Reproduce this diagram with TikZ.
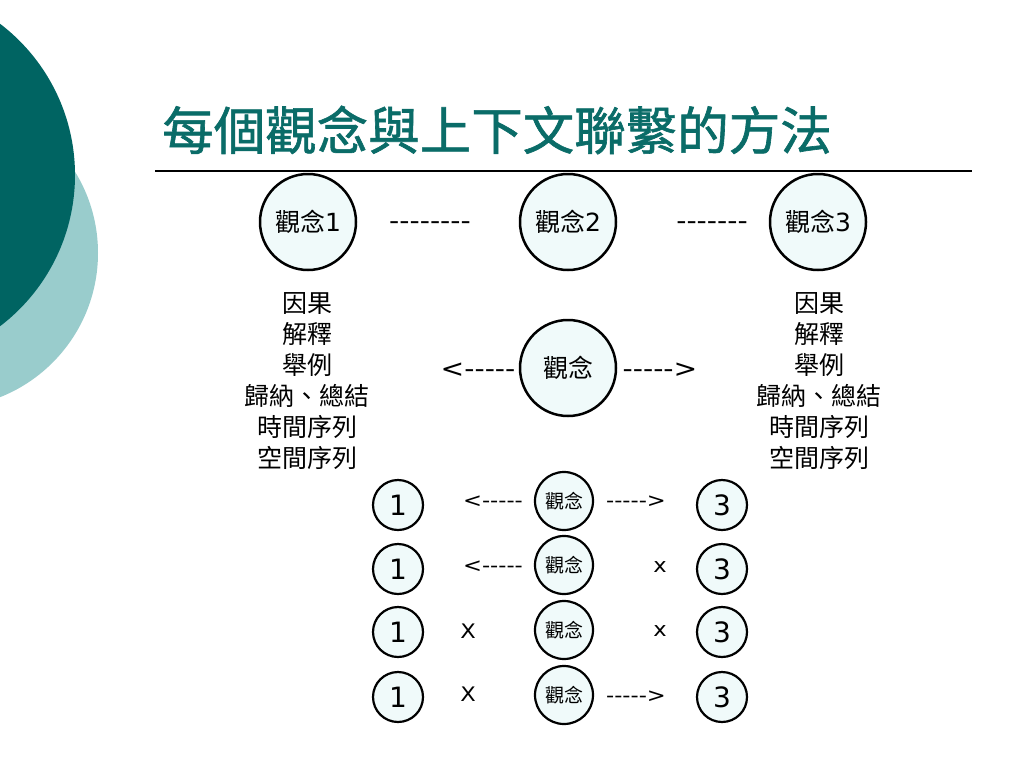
\documentclass[tikz,border=0pt]{standalone}
\usepackage{fontspec}
\setmainfont{DejaVu Sans}
\newfontfamily\cjk{Noto Sans CJK TC}
\newfontfamily\cjktitle[FakeBold=1.2]{Noto Sans CJK TC}
\newfontfamily\wide[FakeStretch=1.13]{DejaVu Sans}
\definecolor{darkteal}{RGB}{0,100,98}
\definecolor{lightteal}{RGB}{153,204,204}
\definecolor{titlecol}{RGB}{10,108,104}
\definecolor{cfill}{RGB}{240,250,250}
\begin{document}
\begin{tikzpicture}[x=1pt,y=-1pt,
  bigc/.style={circle, draw, line width=2.5pt, fill=cfill, minimum size=96pt, inner sep=0pt, font=\fontsize{25}{30}\selectfont},
  smallc/.style={circle, draw, line width=2.2pt, fill=cfill, minimum size=50pt, inner sep=0pt, font=\fontsize{28}{32}\selectfont},
  midc/.style={circle, draw, line width=2.2pt, fill=cfill, minimum size=58pt, inner sep=0pt, font=\fontsize{19}{22}\selectfont\cjk},
  biglab/.style={inner sep=0pt, font=\fontsize{25}{30}\selectfont\wide},
  smalllab/.style={inner sep=0pt, font=\fontsize{20}{24}\selectfont\wide},
  column/.style={inner sep=0pt, align=center, font=\fontsize{25}{31}\selectfont\cjk}]
\useasboundingbox (0,0) rectangle (1024,768);
\fill[white] (0,0) rectangle (1024,768);
\begin{scope}
  \clip (0,0) rectangle (1024,768);
  \fill[lightteal] (-57,253) circle[radius=155];
  \fill[darkteal] (-115,175) circle[radius=190];
\end{scope}
% title
\node[inner sep=0pt, text=titlecol, font=\fontsize{51.5}{56}\selectfont\cjktitle] (title) at (497,130) {每個觀念與上下文聯繫的方法};
\coordinate (rl) at (155,171);
\coordinate (rr) at (972,171);
\draw[line width=1.5pt] (rl) -- (rr);
% top row
\node[bigc] (c1) at (308,222) {{\cjk 觀念}1};
\node[bigc] (c2) at (568,222) {{\cjk 觀念}2};
\node[bigc] (c3) at (818,222) {{\cjk 觀念}3};
\node[biglab] (d1) at (430,222) {\vphantom{<}--------};
\node[biglab] (d2) at (712,222) {\vphantom{<}-------};
% middle
\node[bigc, font=\fontsize{25}{30}\selectfont\cjk] (cm) at (568,368) {觀念};
\node[biglab] (la) at (478,370) {<-----};
\node[biglab] (ra) at (660,370) {----->};
\node[column] (colL) at (307,381) {因果\\解釋\\舉例\\歸納、總結\\時間序列\\空間序列};
\node[column] (colR) at (819,381) {因果\\解釋\\舉例\\歸納、總結\\時間序列\\空間序列};
% bottom rows
\node[smallc] (a1) at (398,505) {1};
\node[midc] (m1) at (564,501) {觀念};
\node[smallc] (b1) at (722,505) {3};
\node[smalllab] (l1) at (493,502) {<-----};
\node[smalllab] (r1) at (636,502) {----->};

\node[smallc] (a2) at (398,569) {1};
\node[midc] (m2) at (564,565) {觀念};
\node[smallc] (b2) at (722,569) {3};
\node[smalllab] (l2) at (493,567) {<-----};
\node[smalllab] (r2) at (660,567) {x};

\node[smallc] (a3) at (398,632) {1};
\node[midc] (m3) at (564,630) {觀念};
\node[smallc] (b3) at (722,632) {3};
\node[smalllab] (l3) at (468,631) {X};
\node[smalllab] (r3) at (660,631) {x};

\node[smallc] (a4) at (398,697) {1};
\node[midc] (m4) at (564,695) {觀念};
\node[smallc] (b4) at (722,697) {3};
\node[smalllab] (l4) at (468,694) {X};
\node[smalllab] (r4) at (636,697) {----->};
\end{tikzpicture}
\end{document}
